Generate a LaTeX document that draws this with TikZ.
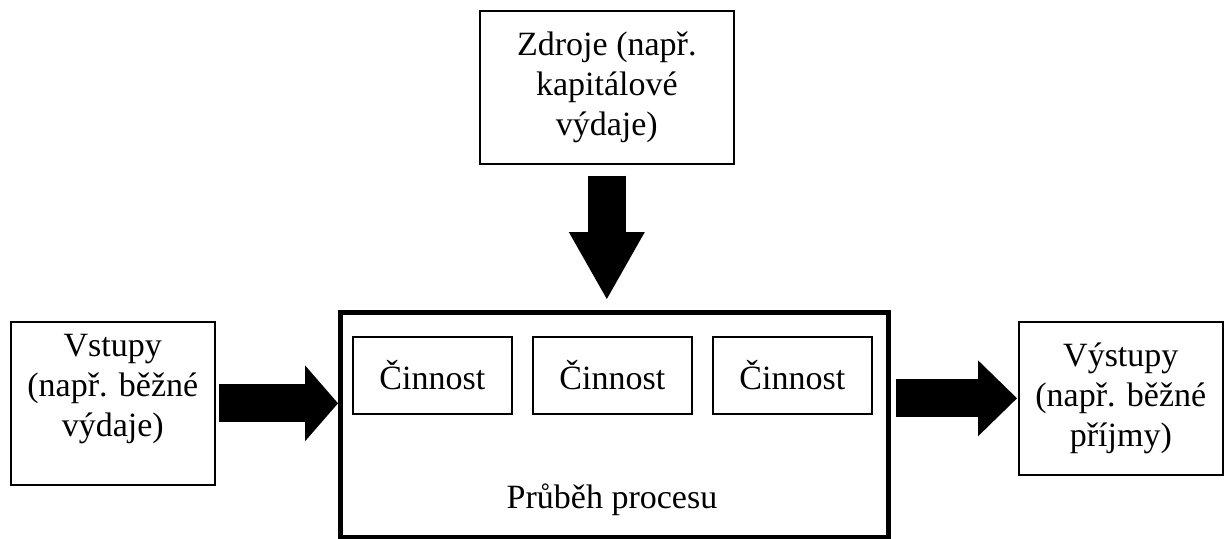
\documentclass[tikz,border=0pt]{standalone}
\usepackage{fontspec}
\setmainfont{Liberation Serif}
\usetikzlibrary{arrows.meta}
\tikzstyle{box} = [draw, line width=0.8pt, anchor=north west, align=center, inner sep=0pt, font=\fontsize{17}{20}\selectfont]
\tikzstyle{fat} = [line width=19pt, -{Triangle[length=#1, width=38pt, line width=0pt]}]

\begin{document}
\begin{tikzpicture}[x=0.5pt, y=-0.5pt]
        \useasboundingbox (0,0) rectangle (1224,538);
        \node[box, minimum width=127pt, minimum height=76.5pt] at (479,10) (zdr) {Zdroje (např.\\kapitálové\\výdaje)};
        \node[box, minimum width=102pt, minimum height=81.5pt, text depth=17.5pt] at (10,321) (vst) {Vstupy\\(např. běžné\\výdaje)};
        \node[box, minimum width=102pt, minimum height=76.5pt] at (1018,321) (vyst) {Výstupy\\(např. běžné\\příjmy)};
        \node[box, line width=2.25pt, minimum width=274pt, minimum height=112.5pt] at (338,310) (proc) {};
        \node[box, minimum width=79.5pt, minimum height=38.5pt] at (352,336) (c1) {Činnost};
        \node[box, minimum width=79.5pt, minimum height=38.5pt] at (532,336) (c2) {Činnost};
        \node[box, minimum width=79.5pt, minimum height=38.5pt] at (712,336) (c3) {Činnost};
        \node[anchor=base, font=\fontsize{17}{20}\selectfont] at (612,508) (pp) {Průběh procesu};

        \draw[fat=33.5pt] ([yshift=-5.5pt]zdr.south) -- ([yshift=5.5pt]proc.north -| zdr.south);
        \draw[fat=16.5pt] ([xshift=1.5pt]vst.east) -- (proc.west |- vst.east);
        \draw[fat=19.5pt] ([xshift=2.5pt]proc.east |- vyst.west) -- ([xshift=-0.5pt]vyst.west);
    \end{tikzpicture}
\end{document}
